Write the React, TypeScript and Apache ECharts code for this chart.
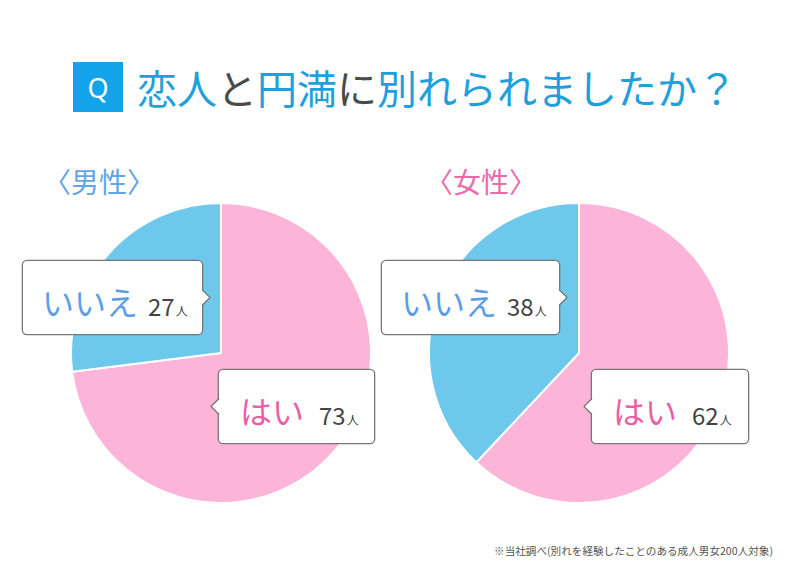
import React, { useEffect, useRef } from 'react';
import * as echarts from 'echarts';

// 回答の並び（はい → いいえ、12時から時計回り）
const answers = ['はい', 'いいえ'];
const groups = ['男性', '女性'];
const maleCounts = [73, 27];
const femaleCounts = [62, 38];
const unit = '人';
const note = '※当社調べ(別れを経験したことのある成人男女200人対象)';

const sliceColors = ['#fdb4d9', '#6dc8ec'];
const answerColors = ['#ea5fa6', '#5c9ee6'];
const groupColors = ['#62a5e6', '#ec6aaa'];

const FONT = '"Noto Sans CJK JP", "Noto Sans", sans-serif';

// 円の配置と吹き出しの位置
const centers = [[221, 353], [579, 353]];
const boxes = [
  [
    { x: 219, cy: 406.5, w: 155, pl: 21 },
    { x: 23, cy: 297.5, w: 179, pl: 19 },
  ],
  [
    { x: 592, cy: 406.5, w: 156, pl: 21 },
    { x: 382, cy: 297.5, w: 177, pl: 19 },
  ],
];

const App: React.FC = () => {
  const chartRef = useRef<HTMLDivElement>(null);

  useEffect(() => {
    document.body.style.margin = '0';
    if (!chartRef.current) return;
    const chart = echarts.init(chartRef.current, undefined, { renderer: 'svg' });

    const counts = [maleCounts, femaleCounts];

    const series = counts.map((vals, si) => ({
      type: 'pie',
      center: centers[si],
      radius: 150,
      startAngle: 90,
      clockwise: true,
      silent: true,
      emphasis: { disabled: true },
      itemStyle: { borderColor: '#fff', borderWidth: 2 },
      labelLine: { show: false },
      label: {
        show: true,
        position: 'inside',
        backgroundColor: '#fff',
        borderColor: '#777',
        borderWidth: 1.3,
        borderRadius: 4,
        formatter: (p: any) =>
          `{n${p.dataIndex}|${p.name}}{v${p.dataIndex}|${p.value}}{u|${unit}}`,
        rich: {
          n0: { fontSize: 32, color: answerColors[0], fontFamily: FONT, lineHeight: 40, verticalAlign: 'bottom' },
          n1: { fontSize: 32, color: answerColors[1], fontFamily: FONT, lineHeight: 40, verticalAlign: 'bottom' },
          v0: { fontSize: 24, color: '#444', fontFamily: FONT, lineHeight: 40, verticalAlign: 'bottom', padding: [0, 0, 0, 15] },
          v1: { fontSize: 24, color: '#444', fontFamily: FONT, lineHeight: 40, verticalAlign: 'bottom', padding: [0, 0, 0, 10] },
          u: { fontSize: 12, color: '#444', fontFamily: FONT, lineHeight: 40, verticalAlign: 'bottom', padding: [0, 0, 0, 1] },
        },
      },
      labelLayout: (params: any) => {
        const b = boxes[si][params.dataIndex];
        return { x: b.x, y: b.cy, align: 'left', verticalAlign: 'middle' };
      },
      data: answers.map((name, i) => ({
        name,
        value: vals[i],
        itemStyle: { color: sliceColors[i] },
        label: {
          width: boxes[si][i].w - boxes[si][i].pl - 8,
          padding: [16, 8, 17, boxes[si][i].pl],
        },
      })),
    }));

    // 吹き出しの矢印
    const arrows: any[] = [];
    boxes.forEach((row) => {
      row.forEach((b, j) => {
        const dir = j === 0 ? -1 : 1;
        const edge = j === 0 ? b.x : b.x + b.w;
        arrows.push({
          type: 'polygon',
          z: 100,
          shape: {
            points: [
              [edge - dir * 1.5, b.cy - 8.5],
              [edge + dir * 8, b.cy],
              [edge - dir * 1.5, b.cy + 8.5],
            ],
          },
          style: { fill: '#fff' },
        });
        arrows.push({
          type: 'polyline',
          z: 101,
          shape: {
            points: [
              [edge, b.cy - 8],
              [edge + dir * 8, b.cy],
              [edge, b.cy + 8],
            ],
          },
          style: { stroke: '#777', lineWidth: 1.3, fill: 'none' },
        });
      });
    });

    const option = {
      animation: false,
      backgroundColor: '#fff',
      title: {
        left: 73,
        top: 62,
        padding: 0,
        text: '{q|Q}{s| }{b|恋人}{g|と}{b|円満}{g|に}{b|別れられましたか？}',
        textStyle: {
          fontWeight: 'normal',
          rich: {
            q: {
              width: 50, height: 50, lineHeight: 50, align: 'center',
              backgroundColor: '#12a3ea', color: '#fff', fontSize: 27,
              fontWeight: 'normal',
              fontFamily: '"Noto Sans", sans-serif',
            },
            s: { width: 14, fontSize: 10, lineHeight: 50 },
            b: { fontSize: 40, color: '#1fa0dc', lineHeight: 50, fontFamily: FONT, fontWeight: 'normal' },
            g: { fontSize: 40, color: '#4a4a4a', lineHeight: 50, fontFamily: FONT, fontWeight: 'normal' },
          },
        },
      },
      graphic: [
        ...groups.map((g, i) => ({
          type: 'text',
          x: i === 0 ? 99 : 481,
          y: 181,
          style: {
            text: `〈${g}〉`,
            fill: groupColors[i],
            font: `28px ${FONT}`,
            textAlign: 'center',
            textVerticalAlign: 'middle',
          },
        })),
        {
          type: 'text',
          x: 773,
          y: 550,
          style: {
            text: note,
            fill: '#555',
            font: `10.6px ${FONT}`,
            textAlign: 'right',
            textVerticalAlign: 'middle',
          },
        },
        ...arrows,
      ],
      series,
    };

    chart.setOption(option);

    return () => {
      chart.dispose();
    };
  }, []);

  return <div ref={chartRef} style={{ width: '800px', height: '575px' }} />;
};

export default App;
